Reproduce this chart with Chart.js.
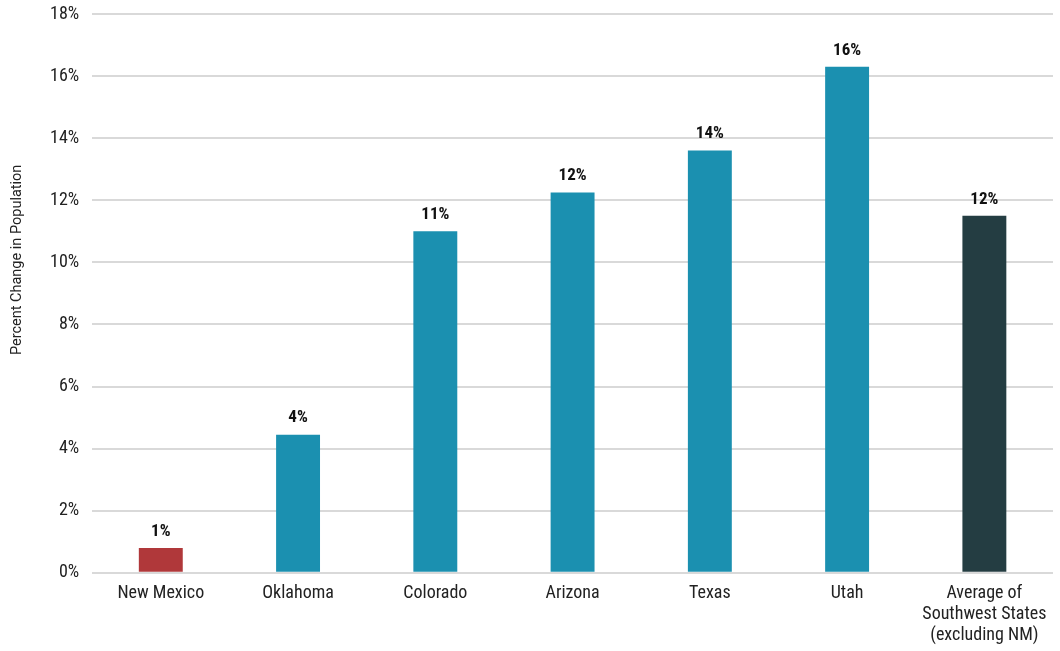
<!DOCTYPE html>
<html>
<head>
<meta charset="utf-8">
<script src="https://cdn.jsdelivr.net/npm/chart.js@4/dist/chart.umd.min.js"></script>
<style>
  html, body { margin: 0; padding: 0; background: #fff; }
  #wrap { width: 1060px; height: 651px; position: relative; }
</style>
</head>
<body>
<div id="wrap"><canvas id="chart"></canvas></div>
<script>
// Population change by state, percent
const categories = ['New Mexico', 'Oklahoma', 'Colorado', 'Arizona', 'Texas', 'Utah', ['Average of', 'Southwest States', '(excluding NM)']];
const changePct = [0.8, 4.45, 11.0, 12.25, 13.6, 16.3, 11.5];
const barColors = ['#B0383A', '#1B90B0', '#1B90B0', '#1B90B0', '#1B90B0', '#1B90B0', '#243D42'];
const yTicks = [0, 2, 4, 6, 8, 10, 12, 14, 16, 18];
const yAxisTitle = 'Percent Change in Population';

const FONT = '"Roboto Condensed", "Liberation Sans Narrow", "DejaVu Sans Condensed", Roboto, sans-serif';
const TITLE_FONT = 'Roboto, "Liberation Sans", sans-serif';

// Writes the rounded value above each bar
const valueLabels = {
  id: 'valueLabels',
  afterDatasetsDraw(chart) {
    const ctx = chart.ctx;
    const meta = chart.getDatasetMeta(0);
    ctx.save();
    ctx.font = 'bold 17px ' + FONT;
    ctx.fillStyle = '#111';
    ctx.textAlign = 'center';
    ctx.textBaseline = 'bottom';
    meta.data.forEach((bar, i) => {
      const v = chart.data.datasets[0].data[i];
      ctx.fillText(Math.round(v) + '%', bar.x, bar.y - 8);
    });
    ctx.restore();
  }
};

// Vertical axis title, set a little above the middle of the plot
const sideTitle = {
  id: 'sideTitle',
  afterDraw(chart) {
    const ctx = chart.ctx;
    const area = chart.chartArea;
    ctx.save();
    ctx.translate(17, area.top + (area.bottom - area.top) * 0.44);
    ctx.rotate(-Math.PI / 2);
    ctx.font = '14.5px ' + TITLE_FONT;
    ctx.fillStyle = '#222';
    ctx.textAlign = 'center';
    ctx.textBaseline = 'middle';
    ctx.fillText(yAxisTitle, 0, 0);
    ctx.restore();
  }
};

new Chart(document.getElementById('chart'), {
  type: 'bar',
  data: {
    labels: categories,
    datasets: [{
      data: changePct,
      backgroundColor: barColors,
      categoryPercentage: 1.0,
      barPercentage: 0.32
    }]
  },
  options: {
    responsive: true,
    maintainAspectRatio: false,
    animation: false,
    layout: { padding: { top: 0, right: 7, left: 37, bottom: 3 } },
    plugins: { legend: { display: false }, tooltip: { enabled: false } },
    scales: {
      x: {
        grid: { display: false },
        border: { display: false },
        ticks: {
          color: '#222',
          font: { family: FONT, size: 18, lineHeight: 1.17 },
          maxRotation: 0,
          autoSkip: false,
          padding: 2
        }
      },
      y: {
        min: 0,
        max: 18,
        afterBuildTicks(axis) { axis.ticks = yTicks.map(v => ({ value: v })); },
        // keep the top gridline close to the canvas edge
        afterFit(axis) { axis.paddingTop = 14; },
        grid: { color: '#d9d9d9', lineWidth: 2, drawTicks: false },
        border: { display: false },
        ticks: {
          color: '#222',
          font: { family: FONT, size: 18 },
          padding: 13,
          callback: v => v + '%'
        }
      }
    }
  },
  plugins: [valueLabels, sideTitle]
});
</script>
</body>
</html>
